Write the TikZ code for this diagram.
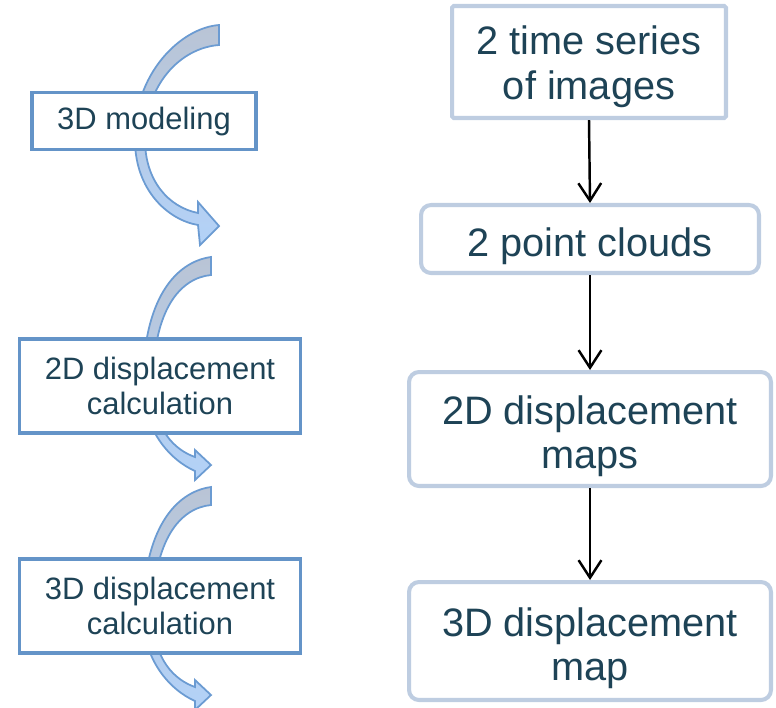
\documentclass[tikz,border=0pt]{standalone}
\usepackage{fontspec}
\setmainfont{Liberation Sans}
\usetikzlibrary{arrows.meta}
\usepackage{xcolor}
\definecolor{stepblue}{HTML}{6494C8}
\definecolor{dataframe}{HTML}{BECDE1}
\definecolor{inktext}{HTML}{1E4356}
\definecolor{bentline}{HTML}{6B9BD2}
\definecolor{bentgrey}{HTML}{B9C4D5}
\definecolor{bentblue}{HTML}{B3D2F8}

\begin{document}
\begin{tikzpicture}[
    x=0.02cm, y=-0.02cm,
    stepbox/.style={
        draw=stepblue,
        line width=2.2pt,
        fill=white,
        text=inktext,
        inner sep=0pt,
        align=center,
        font=\fontsize{17.6}{20}\selectfont,
    },
    databox/.style={
        draw=dataframe,
        line width=2.3pt,
        fill=white,
        text=inktext,
        inner sep=0pt,
        rounded corners=0.2cm,
        align=center,
        font=\fontsize{22.6}{25.5}\selectfont,
        text height=50pt,
    },
    bent/.style={
        draw=bentline,
        line width=1pt,
        top color=bentgrey,
        bottom color=bentblue,
    },
    flow/.style={
        -{Straight Barb[length=10pt,width=13pt]},
        line width=1.4pt,
        black,
    },
]
\useasboundingbox (0,0) rectangle (776,707);

% bent arrows behind the step boxes
\draw[bent] (219,25) .. controls (180,28) and (133,75) .. (135,140)
    .. controls (135,190) and (168,220) .. (198,225)
    -- (200,245) -- (219,226) -- (198,202) -- (198,213)
    .. controls (168,207) and (145,180) .. (145,140)
    .. controls (145,85) and (180,48) .. (219,45) -- cycle;
\draw[bent] (211,257) .. controls (175,262) and (143,300) .. (143,385)
    .. controls (143,430) and (170,460) .. (195,471)
    -- (195,480) -- (211,465) -- (195,450) -- (195,457)
    .. controls (175,450) and (153,430) .. (153,385)
    .. controls (153,310) and (180,278) .. (211,275) -- cycle;
\draw[bent] (211,487) .. controls (175,492) and (143,530) .. (143,615)
    .. controls (143,660) and (170,690) .. (195,701)
    -- (195,710) -- (211,695) -- (195,680) -- (195,687)
    .. controls (175,680) and (153,660) .. (153,615)
    .. controls (153,540) and (180,508) .. (211,505) -- cycle;

% steps
\node[stepbox, minimum width=4.48cm, minimum height=1.14cm] (S1) at (144,121) {3D modeling};
\node[stepbox, minimum width=5.62cm, minimum height=1.88cm] (S2) at (160,386) {2D displacement\\calculation};
\node[stepbox, minimum width=5.62cm, minimum height=1.88cm] (S3) at (160,606) {3D displacement\\calculation};

% data
\node[databox, rounded corners=1pt, text height=47pt, minimum width=5.48cm, minimum height=2.24cm] (D1) at (589,62) {2 time series\\of images};
\node[databox, text height=25pt, minimum width=6.76cm, minimum height=1.36cm] (D2) at (590,239) {2 point clouds};
\node[databox, minimum width=7.24cm, minimum height=2.28cm] (D3) at (590,429) {2D displacement\\maps};
\node[databox, minimum width=7.24cm, minimum height=2.36cm] (D4) at (590,641) {3D displacement\\map};

\draw[flow] (D1.south) -- (D2.north);
\draw[flow] (D2.south) -- (D3.north);
\draw[flow] (D3.south) -- (D4.north);

\end{tikzpicture}
\end{document}
